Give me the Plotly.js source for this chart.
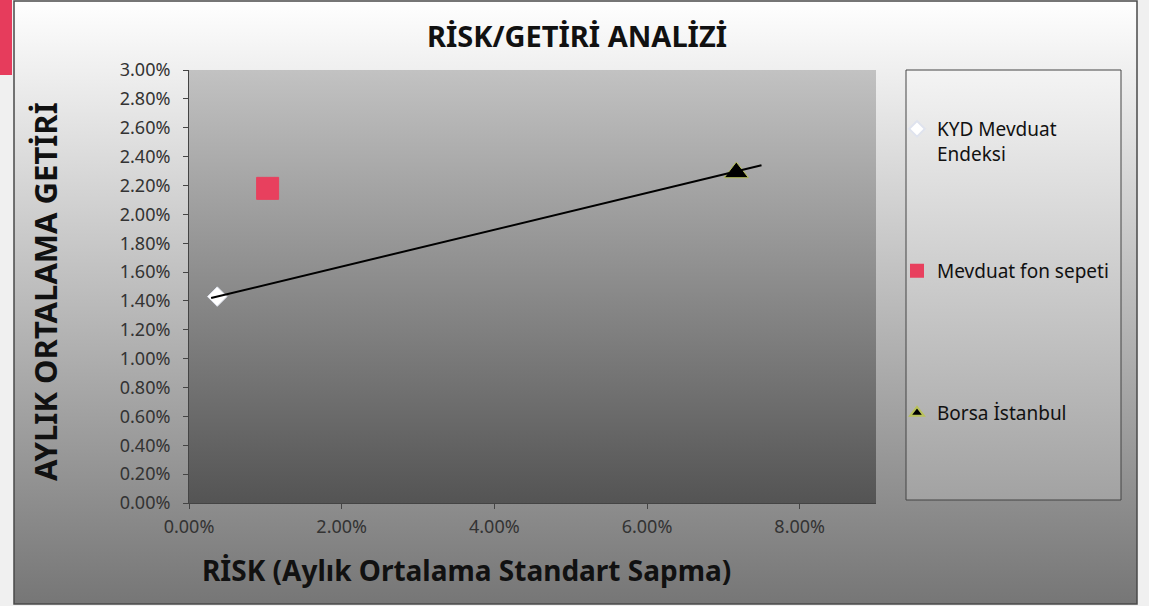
<!DOCTYPE html>
<html>
<head>
<meta charset="utf-8">
<script src="https://cdn.plot.ly/plotly-3.0.1.min.js"></script>
<style>html,body{margin:0;padding:0;background:#f0f0f0;} #chart{width:1149px;height:606px;}</style>
</head>
<body>
<div id="chart"></div>
<script>
// ---- data ----
const seriesNames = ['KYD Mevduat<br>Endeksi', 'Mevduat fon sepeti', 'Borsa İstanbul'];
const riskValues = [0.0037, 0.0103, 0.0717];     // x: monthly avg std dev
const returnValues = [0.0143, 0.0218, 0.0229];   // y: monthly avg return
const trendRisk = [0.0029, 0.0750];
const trendReturn = [0.0142, 0.0234];
const titleText = 'RİSK/GETİRİ ANALİZİ';
const xTitleText = 'RİSK (Aylık Ortalama Standart Sapma)';
const yTitleText = 'AYLIK ORTALAMA GETİRİ';

// ---- styles ----
const symbols = ['diamond', 'square', 'triangle-up'];
const fills = ['#ffffff', '#e8405e', '#000000'];
const outlines = ['#dfe3ee', '#e8405e', '#b9c25a'];
const sizes = [15, 22, 21];
const legendIds = ['legend', 'legend2', 'legend3'];

// layout geometry (pixels)
const L = 189, R = 876, T = 70, B = 503;
const W = R - L, H = B - T;
const px = v => (v - L) / W;
const py = v => (B - v) / H;

function grad(c1, c2) {
  const svg = "<svg xmlns='http://www.w3.org/2000/svg' width='100' height='100' preserveAspectRatio='none'>" +
    "<defs><linearGradient id='g' x1='0' y1='0' x2='0' y2='1'>" +
    "<stop offset='0' stop-color='" + c1 + "'/><stop offset='1' stop-color='" + c2 + "'/>" +
    "</linearGradient></defs><rect width='100' height='100' fill='url(#g)'/></svg>";
  return 'data:image/svg+xml;charset=utf-8,' + encodeURIComponent(svg);
}

const traces = seriesNames.map((n, i) => ({
  type: 'scatter', mode: 'markers', name: n,
  x: [riskValues[i]], y: [returnValues[i]],
  marker: {symbol: symbols[i], size: sizes[i], color: fills[i], line: {color: outlines[i], width: 1}},
  legend: legendIds[i],
  hoverinfo: 'x+y+name'
}));
traces.push({
  type: 'scatter', mode: 'lines', x: trendRisk, y: trendReturn,
  line: {color: '#000000', width: 2}, showlegend: false, hoverinfo: 'skip'
});

const FONT = 'Noto Sans, Open Sans, sans-serif';
const legBase = {
  bgcolor: 'rgba(0,0,0,0)', borderwidth: 0, xref: 'paper', yref: 'paper',
  xanchor: 'left', valign: 'top', itemsizing: 'constant',
  font: {family: FONT, size: 19, color: '#111111'}
};

const layout = {
  width: 1149, height: 606,
  margin: {l: L, r: 1149 - R, t: T, b: 606 - B},
  paper_bgcolor: '#f0f0f0',
  plot_bgcolor: 'rgba(0,0,0,0)',
  font: {family: FONT, color: '#333333'},
  title: {
    text: titleText, xref: 'container', yref: 'container',
    x: 577 / 1149, y: 1 - 37 / 606, xanchor: 'center', yanchor: 'middle',
    font: {family: FONT, size: 29, color: '#111111', weight: 'bold'}
  },
  xaxis: {
    range: [0, 0.09], dtick: 0.02, tick0: 0, tickformat: '.2%',
    showgrid: false, zeroline: false, showline: true, linecolor: '#444444', linewidth: 1,
    ticks: 'outside', ticklen: 5, tickcolor: '#444444', ticklabelstandoff: 2,
    tickfont: {family: FONT, size: 18, color: '#333333'}
  },
  yaxis: {
    range: [0, 0.03], dtick: 0.002, tick0: 0, tickformat: '.2%',
    showgrid: false, zeroline: false, showline: true, linecolor: '#444444', linewidth: 1,
    ticks: 'outside', ticklen: 5, tickcolor: '#444444', ticklabelstandoff: 9,
    tickfont: {family: FONT, size: 18, color: '#333333'}
  },
  legend: Object.assign({}, legBase, {x: px(897), y: py(110), yanchor: 'top'}),
  legend2: Object.assign({}, legBase, {x: px(897), y: py(271), yanchor: 'middle'}),
  legend3: Object.assign({}, legBase, {x: px(897), y: py(413), yanchor: 'middle'}),
  annotations: [
    {text: xTitleText, xref: 'paper', yref: 'paper', x: px(466), y: py(570),
     xanchor: 'center', yanchor: 'middle', showarrow: false,
     font: {family: FONT, size: 28, color: '#111111', weight: 'bold'}},
    {text: yTitleText, xref: 'paper', yref: 'paper', x: px(45), y: py(292), textangle: -90,
     xanchor: 'center', yanchor: 'middle', showarrow: false,
     font: {family: FONT, size: 31, color: '#111111', weight: 'bold'}}
  ],
  images: [
    {source: grad('#ffffff', '#767676'), xref: 'paper', yref: 'paper',
     x: px(14), y: py(0), sizex: px(1137) - px(14), sizey: py(0) - py(604),
     xanchor: 'left', yanchor: 'top', sizing: 'stretch', layer: 'below'},
    {source: grad('#c2c2c2', '#545454'), xref: 'paper', yref: 'paper',
     x: 0, y: 1, sizex: 1, sizey: 1,
     xanchor: 'left', yanchor: 'top', sizing: 'stretch', layer: 'below'},
    {source: grad('#f4f4f4', '#a2a2a2'), xref: 'paper', yref: 'paper',
     x: px(906), y: py(70), sizex: px(1121) - px(906), sizey: py(70) - py(500),
     xanchor: 'left', yanchor: 'top', sizing: 'stretch', layer: 'below'}
  ],
  shapes: [
    {type: 'rect', xref: 'paper', yref: 'paper', x0: px(14), x1: px(1137), y0: py(1), y1: py(604),
     line: {color: '#4a4a4a', width: 1.5}, layer: 'above'},
    {type: 'rect', xref: 'paper', yref: 'paper', x0: px(906), x1: px(1121), y0: py(70), y1: py(500),
     line: {color: '#444444', width: 1}, layer: 'above'},
    {type: 'rect', xref: 'paper', yref: 'paper', x0: px(0), x1: px(12), y0: py(0), y1: py(75),
     fillcolor: '#e63c5c', line: {width: 0}, layer: 'below'}
  ],
  showlegend: true
};

Plotly.newPlot('chart', traces, layout, {displayModeBar: false, responsive: false});
</script>
</body>
</html>
